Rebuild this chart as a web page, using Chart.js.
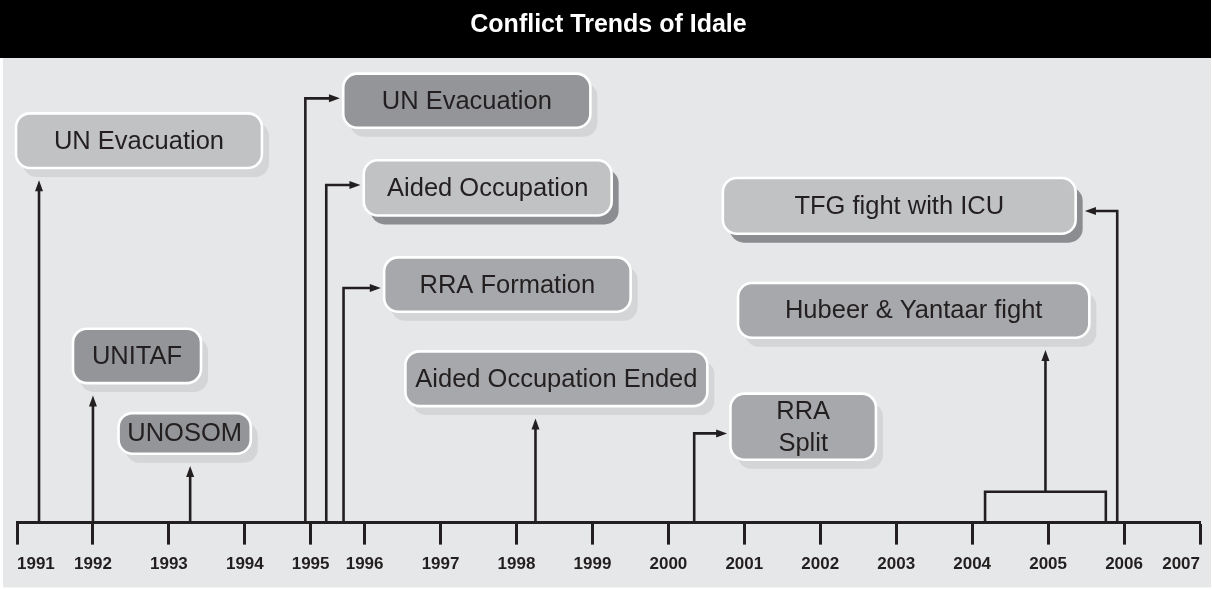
<!DOCTYPE html>
<html>
<head>
<meta charset="utf-8">
<script src="https://cdn.jsdelivr.net/npm/chart.js@4.4.1/dist/chart.umd.min.js"></script>
<style>
  html, body { margin: 0; padding: 0; background: #ffffff; }
  #wrap { width: 1212px; height: 590px; position: relative; }
</style>
</head>
<body>
<div id="wrap"><canvas id="chart"></canvas></div>
<script>
// ---------------- data ----------------
const chartTitle = 'Conflict Trends of Idale';
const years = [1991, 1992, 1993, 1994, 1995, 1996, 1997, 1998, 1999, 2000, 2001, 2002, 2003, 2004, 2005, 2006, 2007];
const tickLabels = ['1991', '1992', '1993', '1994', '1995', '1996', '1997', '1998', '1999', '2000', '2001', '2002', '2003', '2004', '2005', '2006', '2007'];
const eventLabels = ['UN Evacuation', 'UNITAF', 'UNOSOM', 'UN Evacuation', 'Aided Occupation', 'RRA Formation',
                     'Aided Occupation Ended', ['RRA', 'Split'], 'Hubeer & Yantaar fight', 'TFG fight with ICU'];
const eventStart = [1991.29, 1992.0, 1993.28, 1994.92, 1995.29, 1995.61, 1998.25, 2000.34, 2004.17, 2005.91];
const eventEnd   = [1991.29, 1992.0, 1993.28, 1994.92, 1995.29, 1995.61, 1998.25, 2000.34, 2005.76, 2005.91];

// ---------------- layout of the label boxes (axis units: years / levels 0-100) ----------------
const boxLeft   = [1990.97, 1991.72, 1992.32, 1995.58, 1995.96, 1996.24, 1996.52, 2000.80, 2000.90, 2000.70];
const boxRight  = [1994.28, 1993.44, 1994.11, 1998.99, 1999.27, 1999.52, 2000.53, 2002.75, 2005.56, 2005.38];
const boxTop    = [88.37, 42.02, 23.85, 96.92, 78.26, 57.37, 37.14, 28.03, 51.84, 74.45];
const boxBottom = [76.04, 29.75, 14.53, 84.71, 65.83, 45.10, 24.80, 13.24, 39.50, 61.90];
const elbowLevel = [null, null, null, 91.32, 72.66, 50.48, null, 19.2, null, 67.06];
const bracketLevel = 6.63;
const connector = ['up', 'up', 'up', 'right', 'right', 'right', 'up', 'right', 'bracket', 'left'];
const boxTone    = ['light', 'dark', 'dark', 'dark', 'light', 'mid', 'mid', 'mid', 'mid', 'light'];
const shadowTone = ['soft', 'soft', 'soft', 'soft', 'deep', 'soft', 'soft', 'soft', 'soft', 'deep'];
// relative width of a year interval on the timeline (interval starting at that year)
const yearIntervalWeight = { 1994: 0.866, 1995: 0.711 };

// ---------------- style ----------------
const FONT = '"Liberation Sans", Arial, Helvetica, sans-serif';
const STYLE = {
  panel: '#e6e7e8',
  ink: '#231f20',
  fills: { light: '#c1c2c4', mid: '#a7a8ab', dark: '#939598' },
  shadows: { soft: '#d4d5d7', deep: '#8c8d90' },
  shadowDx: 7, shadowDy: 9,
  radius: 14,
  borderWidth: 2.6,
  lineWidth: 2.6,
  headLen: 11, headHalf: 4,
  textSize: 25.5,
  lineGap: 32.5
};

// ---------------- custom timeline scale (piecewise linear in years) ----------------
class TimelineScale extends Chart.LinearScale {
  _cum(v) {
    let y = Math.floor(this.min);
    if (v <= y) return v - y;
    let acc = 0;
    while (y + 1 <= v) { acc += (yearIntervalWeight[y] ?? 1); y += 1; }
    return acc + (v - y) * (yearIntervalWeight[y] ?? 1);
  }
  getPixelForValue(value) {
    if (value === null || value === undefined || isNaN(value)) return NaN;
    const lo = this._cum(this.min), hi = this._cum(this.max);
    return this.getPixelForDecimal((this._cum(value) - lo) / (hi - lo));
  }
  getValueForPixel(pixel) {
    const lo = this._cum(this.min), hi = this._cum(this.max);
    const target = lo + this.getDecimalForPixel(pixel) * (hi - lo);
    let a = this.min - 50, b = this.max + 50;
    for (let k = 0; k < 60; k++) { const m = (a + b) / 2; if (this._cum(m) < target) a = m; else b = m; }
    return (a + b) / 2;
  }
}
TimelineScale.id = 'timeline';
TimelineScale.defaults = Chart.LinearScale.defaults;
Chart.register(TimelineScale);

// ---------------- drawing helpers ----------------
function roundRectPath(ctx, x, y, w, h, r) {
  ctx.beginPath();
  ctx.moveTo(x + r, y);
  ctx.lineTo(x + w - r, y);
  ctx.arcTo(x + w, y, x + w, y + r, r);
  ctx.lineTo(x + w, y + h - r);
  ctx.arcTo(x + w, y + h, x + w - r, y + h, r);
  ctx.lineTo(x + r, y + h);
  ctx.arcTo(x, y + h, x, y + h - r, r);
  ctx.lineTo(x, y + r);
  ctx.arcTo(x, y, x + r, y, r);
  ctx.closePath();
}
function arrowHead(ctx, tx, ty, dir) {
  const L = STYLE.headLen, H = STYLE.headHalf;
  ctx.beginPath();
  if (dir === 'up') { ctx.moveTo(tx, ty); ctx.lineTo(tx - H, ty + L); ctx.lineTo(tx + H, ty + L); }
  else if (dir === 'right') { ctx.moveTo(tx, ty); ctx.lineTo(tx - L, ty - H); ctx.lineTo(tx - L, ty + H); }
  else { ctx.moveTo(tx, ty); ctx.lineTo(tx + L, ty - H); ctx.lineTo(tx + L, ty + H); }
  ctx.closePath();
  ctx.fill();
}
function polyline(ctx, pts) {
  ctx.beginPath();
  ctx.moveTo(pts[0][0], pts[0][1]);
  for (let i = 1; i < pts.length; i++) ctx.lineTo(pts[i][0], pts[i][1]);
  ctx.stroke();
}

const timelinePlugin = {
  id: 'timelineBoxes',
  beforeDraw(chart) {
    const { ctx, width, height } = chart;
    const tb = chart.titleBlock;
    ctx.save();
    ctx.fillStyle = '#ffffff';
    ctx.fillRect(0, 0, width, height);
    ctx.fillStyle = STYLE.panel;
    ctx.fillRect(3, tb.bottom, width - 4, height - tb.bottom - 2.5);
    ctx.fillStyle = '#000000';
    ctx.fillRect(0, 0, width - 1, tb.bottom);
    ctx.restore();
  },
  afterDraw(chart) {
    const { ctx } = chart;
    const xs = chart.scales.x, ys = chart.scales.y;
    const axisY = xs.top;
    ctx.save();
    ctx.lineCap = 'butt';
    ctx.lineJoin = 'miter';
    ctx.strokeStyle = STYLE.ink;
    ctx.fillStyle = STYLE.ink;
    ctx.lineWidth = STYLE.lineWidth;

    // connectors
    eventLabels.forEach((label, i) => {
      const L = xs.getPixelForValue(boxLeft[i]);
      const R = xs.getPixelForValue(boxRight[i]);
      const B = ys.getPixelForValue(boxBottom[i]);
      const ex = xs.getPixelForValue(eventStart[i]);
      const kind = connector[i];
      if (kind === 'up') {
        const tip = B + STYLE.shadowDy + 2;
        polyline(ctx, [[ex, axisY], [ex, tip + STYLE.headLen - 1]]);
        arrowHead(ctx, ex, tip, 'up');
      } else if (kind === 'right') {
        const ey = ys.getPixelForValue(elbowLevel[i]);
        const tip = L - 2;
        polyline(ctx, [[ex, axisY], [ex, ey], [tip - STYLE.headLen + 1, ey]]);
        arrowHead(ctx, tip, ey, 'right');
      } else if (kind === 'left') {
        const ey = ys.getPixelForValue(elbowLevel[i]);
        const tip = R + STYLE.shadowDx + 1;
        polyline(ctx, [[ex, axisY], [ex, ey], [tip + STYLE.headLen - 1, ey]]);
        arrowHead(ctx, tip, ey, 'left');
      } else if (kind === 'bracket') {
        const x1 = xs.getPixelForValue(eventEnd[i]);
        const by = ys.getPixelForValue(bracketLevel);
        polyline(ctx, [[ex, axisY], [ex, by], [x1, by], [x1, axisY]]);
        const cx = (ex + x1) / 2;
        const tip = B + STYLE.shadowDy + 2;
        polyline(ctx, [[cx, by], [cx, tip + STYLE.headLen - 1]]);
        arrowHead(ctx, cx, tip, 'up');
      }
    });

    // boxes
    eventLabels.forEach((label, i) => {
      const L = xs.getPixelForValue(boxLeft[i]);
      const R = xs.getPixelForValue(boxRight[i]);
      const T = ys.getPixelForValue(boxTop[i]);
      const B = ys.getPixelForValue(boxBottom[i]);
      const bw = STYLE.borderWidth / 2;
      roundRectPath(ctx, L + bw + STYLE.shadowDx, T + bw + STYLE.shadowDy, R - L - 2 * bw, B - T - 2 * bw, STYLE.radius);
      ctx.fillStyle = STYLE.shadows[shadowTone[i]];
      ctx.fill();
      roundRectPath(ctx, L + bw, T + bw, R - L - 2 * bw, B - T - 2 * bw, STYLE.radius);
      ctx.fillStyle = STYLE.fills[boxTone[i]];
      ctx.fill();
      ctx.lineWidth = STYLE.borderWidth;
      ctx.strokeStyle = '#ffffff';
      ctx.stroke();

      ctx.fillStyle = STYLE.ink;
      ctx.font = STYLE.textSize + 'px ' + FONT;
      ctx.textAlign = 'center';
      ctx.textBaseline = 'middle';
      const lines = Array.isArray(label) ? label : [label];
      const cy = (T + B) / 2;
      const cx = (L + R) / 2;
      lines.forEach((t, k) => {
        ctx.fillText(t, cx, cy + (k - (lines.length - 1) / 2) * STYLE.lineGap + 1);
      });
    });
    ctx.restore();
  }
};

new Chart(document.getElementById('chart'), {
  type: 'scatter',
  data: {
    datasets: [{
      label: 'Events',
      data: eventStart.map(v => ({ x: v, y: 0 })),
      pointRadius: 0,
      pointHoverRadius: 0,
      showLine: false
    }]
  },
  options: {
    responsive: true,
    maintainAspectRatio: false,
    animation: false,
    devicePixelRatio: 1,
    events: [],
    layout: { padding: { left: 17, right: 12, top: 0, bottom: 5 } },
    plugins: {
      legend: { display: false },
      tooltip: { enabled: false },
      title: {
        display: true,
        text: chartTitle,
        color: '#ffffff',
        font: { family: FONT, size: 25, weight: 'bold' },
        padding: { top: 10, bottom: 18 }
      }
    },
    scales: {
      x: {
        type: 'timeline',
        min: years[0],
        max: years[years.length - 1],
        afterBuildTicks: (scale) => { scale.ticks = years.map(v => ({ value: v })); },
        grid: {
          drawOnChartArea: false,
          drawTicks: true,
          tickLength: 22,
          tickWidth: 3,
          tickColor: STYLE.ink,
          color: STYLE.ink
        },
        border: { display: true, width: 3, color: STYLE.ink },
        ticks: {
          autoSkip: false,
          maxRotation: 0,
          minRotation: 0,
          align: 'inner',
          padding: 10,
          color: STYLE.ink,
          font: { family: FONT, size: 17, weight: 'bold' },
          callback: (value, index) => tickLabels[index]
        }
      },
      y: {
        type: 'linear',
        display: false,
        min: 0,
        max: 100
      }
    }
  },
  plugins: [timelinePlugin]
});
</script>
</body>
</html>
